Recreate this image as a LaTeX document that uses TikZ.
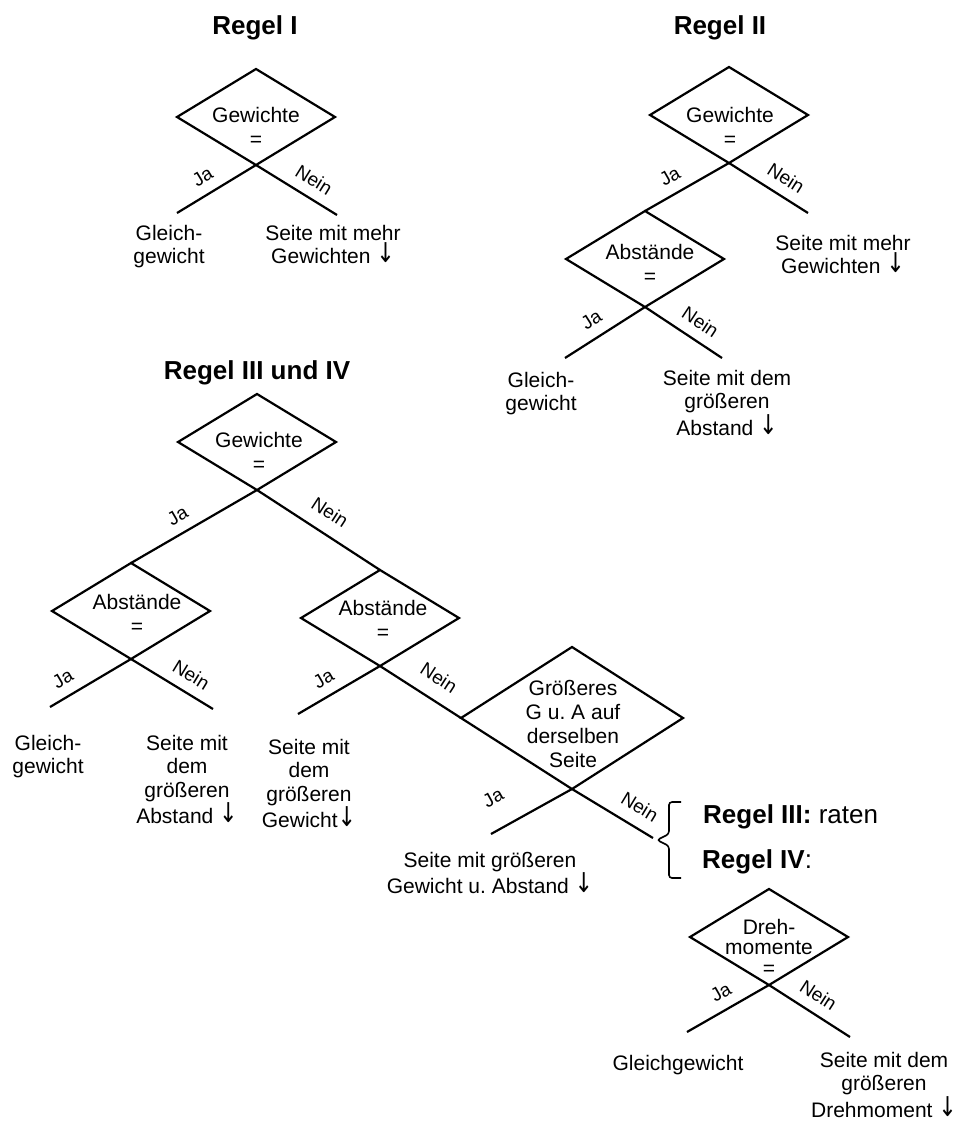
\documentclass[tikz,border=0pt]{standalone}
\usepackage{fontspec}
\setmainfont{Liberation Sans}
\newfontfamily\arrfont{DejaVu Sans}
\newcommand{\darr}{\raisebox{1pt}{\scalebox{1.05}[1.3]{\arrfont ↓}}}
\usetikzlibrary{shapes.geometric}
\frenchspacing
\begin{document}
\begin{tikzpicture}[x=1pt,y=-1pt,
  dia/.style={draw, shape=diamond, line width=2.2pt, inner sep=0pt, outer sep=0pt,
              minimum width=158pt, minimum height=96pt},
  bigdia/.style={dia, minimum width=222pt, minimum height=142pt},
  branch/.style={line width=2.2pt},
  lab/.style={sloped, above, inner sep=10pt, font=\fontsize{19}{19}\selectfont},
  dtext/.style={anchor=north, inner sep=0pt, align=center, font=\fontsize{21}{24}\selectfont},
  outc/.style={anchor=north, inner sep=0pt, align=center, font=\fontsize{21}{23.5}\selectfont},
  ttl/.style={anchor=base, inner sep=0pt, font=\fontsize{26}{30}\selectfont\bfseries},
  rule/.style={anchor=base west, inner sep=0pt, font=\fontsize{26}{30}\selectfont},
  brace/.style={line width=1.6pt, rounded corners=3pt}
]
\useasboundingbox (0,0) rectangle (962,1122);

% ---------------- Regel I ----------------
\node[ttl] (t1) at (255,34) {Regel I};
\node[dia] (d1) at (256,117) {};
\node[dtext] (d1t) at (256,107) {Gewichte\\=};
\coordinate (e1L) at (177,213);
\coordinate (e1R) at (337,215);
\draw[branch] (d1.south) -- node[lab, pos=0.56] {Ja} (e1L);
\draw[branch] (d1.south) -- node[lab, pos=0.6] {Nein} (e1R);
\node[outc] (o1L) at (169,225) {Gleich-\\gewicht};
\node[outc] (o1R) at (333,225) {Seite mit mehr\\Gewichten \darr};

% ---------------- Regel II ----------------
\node[ttl] (t2) at (720,34) {Regel II};
\node[dia] (d2a) at (729,115) {};
\node[dtext] (d2at) at (730,107) {Gewichte\\=};
\node[dia] (d2b) at (645,259) {};
\node[dtext] (d2bt) at (650,244) {Abstände\\=};
\coordinate (e2R) at (808,213);
\coordinate (e2bL) at (565,358);
\coordinate (e2bR) at (722,358);
\draw[branch] (d2a.south) -- node[lab, pos=0.6] {Ja} (d2b.north);
\draw[branch] (d2a.south) -- node[lab, pos=0.6] {Nein} (e2R);
\draw[branch] (d2b.south) -- node[lab, pos=0.55] {Ja} (e2bL);
\draw[branch] (d2b.south) -- node[lab, pos=0.59] {Nein} (e2bR);
\node[outc] (o2R) at (843,235) {Seite mit mehr\\Gewichten \darr};
\node[outc] (o2bL) at (541,372) {Gleich-\\gewicht};
\node[outc] (o2bR) at (727,370) {Seite mit dem\\größeren\\Abstand \darr};

% ---------------- Regel III und IV ----------------
\node[ttl] (t3) at (257,379) {Regel III und IV};
\node[dia] (g) at (257,442) {};
\node[dtext] (gt) at (259,432) {Gewichte\\=};
\node[dia] (a1) at (131,611) {};
\node[dtext] (a1t) at (137,594) {Abstände\\=};
\node[dia] (a2) at (380,618) {};
\node[dtext] (a2t) at (383,600) {Abstände\\=};
\node[bigdia] (gr) at (572,718) {};
\node[dtext] (grt) at (573,680) {Größeres\\G u. A auf\\derselben\\Seite};
\draw[branch] (g.south) -- node[lab, pos=0.56] {Ja} (a1.north);
\draw[branch] (g.south) -- node[lab, pos=0.5, inner sep=13pt] {Nein} (a2.north);

\coordinate (eA1L) at (50,707);
\coordinate (eA1R) at (213,709);
\draw[branch] (a1.south) -- node[lab, pos=0.73] {Ja} (eA1L);
\draw[branch] (a1.south) -- node[lab, pos=0.62] {Nein} (eA1R);

\coordinate (eA2L) at (298,714);
\draw[branch] (a2.south) -- node[lab, pos=0.58] {Ja} (eA2L);
\draw[branch] (a2.south) -- node[lab, pos=0.58, inner sep=14pt] {Nein} (gr.west);

\coordinate (eGRL) at (491,834);
\coordinate (eGRR) at (653,838);
\draw[branch] (gr.south) -- node[lab, pos=0.79, inner sep=23pt] {Ja} (eGRL);
\draw[branch] (gr.south) -- node[lab, pos=0.71, inner sep=12pt] {Nein} (eGRR);

\node[outc] (oA1L) at (48,735) {Gleich-\\gewicht};
\node[outc] (oA1R) at (187,735) {Seite mit\\dem\\größeren\\Abstand \darr};
\node[outc] (oA2L) at (309,739) {Seite mit\\dem\\größeren\\Gewicht\darr};
\node[outc] (oGRL) at (490,852) {Seite mit größeren\\Gewicht u. Abstand \darr};

% brace and rule texts
\coordinate (bt) at (681,802);
\coordinate (bm) at (657,840);
\coordinate (bb) at (681,878);
\draw[brace] (bt) -| (669,834) -- (bm) -- (669,846) |- (bb);
\node[rule] (r3) at (703,823) {\textbf{Regel III:} raten};
\node[rule] (r4) at (702,868) {\textbf{Regel IV}:};

% Regel IV
\node[dia] (dm) at (769,937) {};
\node[dtext, font=\fontsize{21}{20.5}\selectfont] (dmt) at (769,919) {Dreh-\\momente\\=};
\coordinate (eDL) at (687,1032);
\coordinate (eDR) at (850,1037);
\draw[branch] (dm.south) -- node[lab, pos=0.48] {Ja} (eDL);
\draw[branch] (dm.south) -- node[lab, pos=0.49] {Nein} (eDR);
\node[outc] (oDL) at (678,1055) {Gleichgewicht};
\node[outc] (oDR) at (884,1052) {Seite mit dem\\größeren\\Drehmoment \darr};
\end{tikzpicture}
\end{document}
